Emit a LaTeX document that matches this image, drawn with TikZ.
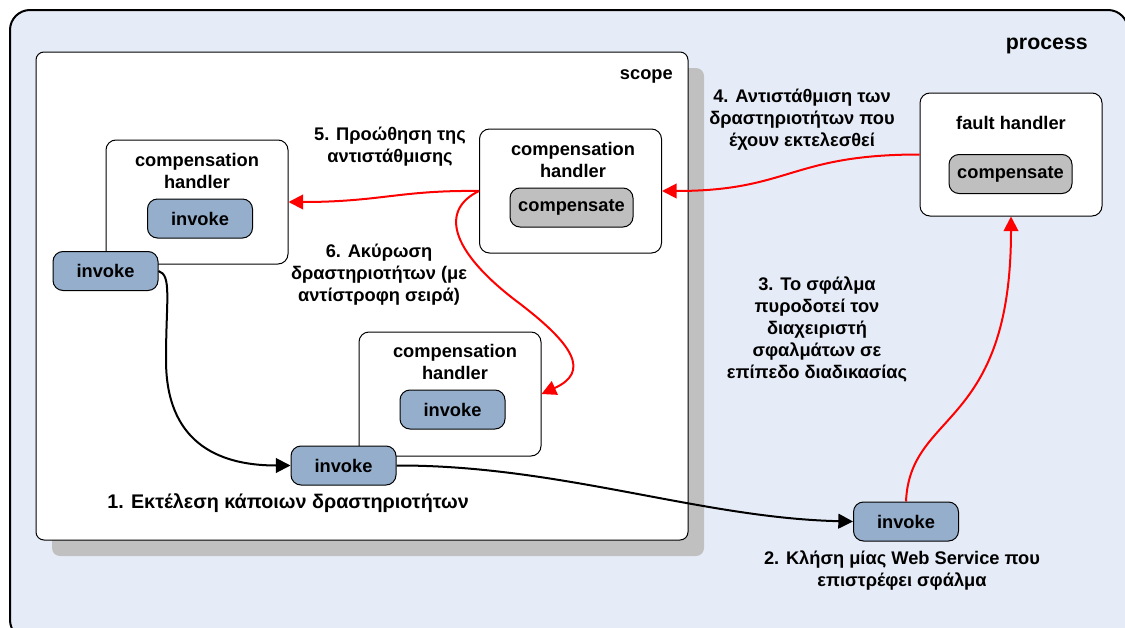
\documentclass[tikz,border=0pt]{standalone}
\usepackage{fontspec}
\setmainfont{Liberation Sans}
\usetikzlibrary{arrows.meta}
\definecolor{procbg}{HTML}{E6ECF7}
\definecolor{invblue}{HTML}{95AECB}
\definecolor{compgray}{HTML}{BFBFBF}
\definecolor{shadowgray}{HTML}{C0C0C0}
\tikzset{
  txt/.style={font=\fontsize{13.7}{16.5}\selectfont\bfseries, align=center, inner sep=0pt},
  handlerbox/.style={draw=black, line width=0.75pt, fill=white, rounded corners=7.5pt,
    minimum width=136.5pt, minimum height=93pt, inner sep=0pt},
  invokebox/.style={draw=black, line width=0.75pt, fill=invblue, rounded corners=7.5pt,
    minimum width=78.75pt, minimum height=29.25pt, inner sep=0pt,
    font=\fontsize{13.7}{16}\selectfont\bfseries},
  compbox/.style={draw=black, line width=0.75pt, fill=compgray, rounded corners=7.5pt,
    minimum width=92.25pt, minimum height=29.25pt, inner sep=0pt,
    font=\fontsize{13.7}{16}\selectfont\bfseries},
  redarrow/.style={draw=red, line width=1.5pt, -{Triangle[length=11pt,width=11pt]}},
  blackarrow/.style={draw=black, line width=1.5pt, -{Triangle[length=11pt,width=11pt]}},
}
\begin{document}
\begin{tikzpicture}[x=0.75pt,y=-0.75pt]
\useasboundingbox (0,0) rectangle (1125,628);
\begin{scope}
\clip (0,0) rectangle (1125,628);
% process
\draw[fill=procbg, line width=1.5pt, rounded corners=15pt] (10,10) rectangle (1128,640);
\end{scope}
\node[txt, font=\fontsize{16}{19}\selectfont\bfseries, anchor=east] (proclbl) at (1088,46) {process};
% scope shadow + scope
\fill[shadowgray, rounded corners=6pt] (52,68) rectangle (704,556);
\draw[fill=white, line width=0.75pt, rounded corners=6pt] (36,52) rectangle (688,540);
\node[txt, anchor=east] (scopelbl) at (673,76) {scope};

% handlers
\node[handlerbox] (h1) at (197,202) {};
\node[txt] (h1t) at (197,171) {compensation\\handler};
\node[invokebox] (i1) at (200,218.5) {invoke};
\node[invokebox] (iA) at (105.5,271) {invoke};

\node[handlerbox] (h2) at (570.5,191) {};
\node[txt] (h2t) at (573,160) {compensation\\handler};
\node[compbox] (c2) at (571.5,207.5) {compensate};

\node[handlerbox] (h3) at (450,394) {};
\node[txt] (h3t) at (455,362) {compensation\\handler};
\node[invokebox] (i3) at (452.5,409.5) {invoke};
\node[invokebox] (iB) at (343.5,465.5) {invoke};

\node[handlerbox, minimum height=92.25pt] (fh) at (1011,154.5) {};
\node[txt] (fht) at (1011,123) {fault handler};
\node[compbox] (cf) at (1010.5,174) {compensate};

\node[invokebox] (iC) at (906,521.5) {invoke};

% labels
\node[txt, font=\fontsize{14.8}{17}\selectfont\bfseries] (l1) at (288,503) {1. Εκτέλεση κάποιων δραστηριοτήτων};
\node[txt] (l2) at (902,571) {2. Κλήση μίας Web Service που\\επιστρέφει σφάλμα};
\node[txt] (l3) at (817,329) {3. Το σφάλμα\\πυροδοτεί τον\\διαχειριστή\\σφαλμάτων σε\\επίπεδο διαδικασίας};
\node[txt] (l4) at (802,120) {4. Αντιστάθμιση των\\δραστηριοτήτων που\\έχουν εκτελεσθεί};
\node[txt] (l5) at (390,147) {5. Προώθηση της\\αντιστάθμισης};
\node[txt] (l6) at (379,275) {6. Ακύρωση\\δραστηριοτήτων (με\\αντίστροφη σειρά)};

% connectors
\draw[blackarrow] (iA.east) .. controls (172,275) and (166,300) .. (166,360)
   .. controls (166,440) and (215,465.5) .. (iB.west);
\draw[blackarrow] (iB.east) .. controls (560,465) and (700,518) .. (iC.west);
\draw[redarrow] (iC.north) .. controls (910,410) and (1011,430) .. (fh.south);
\draw[redarrow] (fh.west) .. controls (790,154.5) and (790,191) .. (h2.east);
\draw[redarrow] (h2.west) .. controls (400,190) and (380,202) .. (h1.east);
\draw[redarrow] (h2.west) .. controls (440,210) and (450,250) .. (515,300)
   .. controls (575,345) and (590,372) .. (h3.east);
\end{tikzpicture}
\end{document}
